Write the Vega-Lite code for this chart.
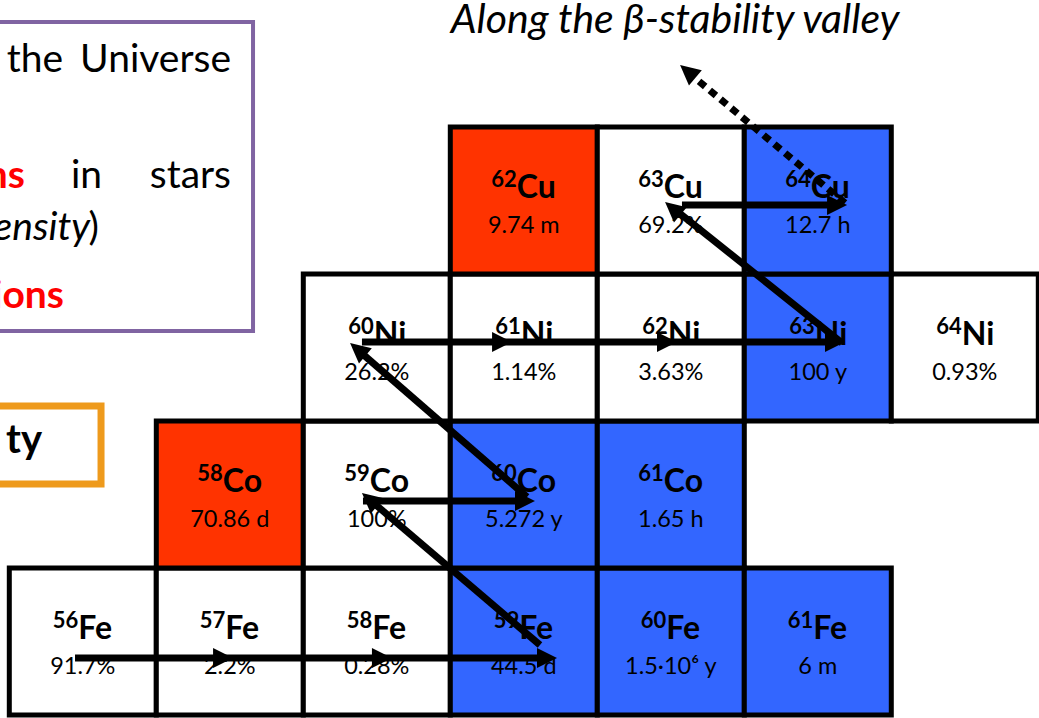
{
  "$schema": "https://vega.github.io/schema/vega-lite/v6.json",
  "width": 1039,
  "height": 718,
  "padding": 0,
  "autosize": {"type": "none"},
  "background": "white",
  "config": {"view": {"stroke": null}},
  "datasets": {
    "cells": [
      {"Z": 26, "N": 30, "A": "56", "el": "Fe", "val": "91.7%", "kind": "stable"},
      {"Z": 26, "N": 31, "A": "57", "el": "Fe", "val": "2.2%", "kind": "stable"},
      {"Z": 26, "N": 32, "A": "58", "el": "Fe", "val": "0.28%", "kind": "stable"},
      {"Z": 26, "N": 33, "A": "59", "el": "Fe", "val": "44.5 d", "kind": "beta-"},
      {"Z": 26, "N": 34, "A": "60", "el": "Fe", "val": "1.5·10⁶ y", "kind": "beta-"},
      {"Z": 26, "N": 35, "A": "61", "el": "Fe", "val": "6 m", "kind": "beta-"},
      {"Z": 27, "N": 31, "A": "58", "el": "Co", "val": "70.86 d", "kind": "beta+"},
      {"Z": 27, "N": 32, "A": "59", "el": "Co", "val": "100%", "kind": "stable"},
      {"Z": 27, "N": 33, "A": "60", "el": "Co", "val": "5.272 y", "kind": "beta-"},
      {"Z": 27, "N": 34, "A": "61", "el": "Co", "val": "1.65 h", "kind": "beta-"},
      {"Z": 28, "N": 32, "A": "60", "el": "Ni", "val": "26.2%", "kind": "stable"},
      {"Z": 28, "N": 33, "A": "61", "el": "Ni", "val": "1.14%", "kind": "stable"},
      {"Z": 28, "N": 34, "A": "62", "el": "Ni", "val": "3.63%", "kind": "stable"},
      {"Z": 28, "N": 35, "A": "63", "el": "Ni", "val": "100 y", "kind": "beta-"},
      {"Z": 28, "N": 36, "A": "64", "el": "Ni", "val": "0.93%", "kind": "stable"},
      {"Z": 29, "N": 33, "A": "62", "el": "Cu", "val": "9.74 m", "kind": "beta+"},
      {"Z": 29, "N": 34, "A": "63", "el": "Cu", "val": "69.2%", "kind": "stable"},
      {"Z": 29, "N": 35, "A": "64", "el": "Cu", "val": "12.7 h", "kind": "beta-"}
    ],
    "lines": [
      {"x1": 29.947, "y1": 25.888, "x2": 33.158, "y2": 25.888},
      {"x1": 33.110, "y1": 25.976, "x2": 31.954, "y2": 26.963},
      {"x1": 31.906, "y1": 26.956, "x2": 33.008, "y2": 26.956},
      {"x1": 33.022, "y1": 26.983, "x2": 31.872, "y2": 27.983},
      {"x1": 31.899, "y1": 28.037, "x2": 35.117, "y2": 28.037},
      {"x1": 35.165, "y1": 28.031, "x2": 34.015, "y2": 28.949},
      {"x1": 34.076, "y1": 28.969, "x2": 35.131, "y2": 28.969}
    ],
    "dotted": [
      {"x1": 35.185, "y1": 28.983, "x2": 34.165, "y2": 29.833}
    ],
    "headsRight": [
      {"x": 31.022, "y": 25.888},
      {"x": 32.103, "y": 25.888},
      {"x": 33.226, "y": 25.888},
      {"x": 33.076, "y": 26.956},
      {"x": 32.920, "y": 28.037},
      {"x": 34.042, "y": 28.037},
      {"x": 35.185, "y": 28.037},
      {"x": 35.199, "y": 28.969}
    ],
    "headsDiag": [
      {"x": 31.899, "y": 27.010},
      {"x": 31.818, "y": 28.031},
      {"x": 33.961, "y": 28.990},
      {"x": 34.063, "y": 29.922}
    ],
    "purpleBox": [{"x1": 29.30, "x2": 31.158, "y1": 28.112, "y2": 30.214}],
    "orangeBox": [{"x1": 29.30, "x2": 30.124, "y1": 27.072, "y2": 27.602}],
    "plainText": [
      {"x": 29.8653, "y": 29.8742, "t": "the"},
      {"x": 31.0081, "y": 29.8742, "t": "Universe"},
      {"x": 30.1306, "y": 29.0851, "t": "in"},
      {"x": 31.0081, "y": 29.0851, "t": "stars"},
      {"x": 30.1102, "y": 28.7313, "t": ")"}
    ],
    "redText": [
      {"x": 29.6068, "y": 29.0851, "t": "ns"},
      {"x": 29.8721, "y": 28.2688, "t": "ions"}
    ],
    "italicText": [
      {"x": 30.0490, "y": 28.7313, "t": "ensity"}
    ],
    "boldText": [
      {"x": 29.7224, "y": 27.2824, "t": "ty"}
    ],
    "title": [
      {"x": 34.0285, "y": 30.1395, "t": "Along the β-stability valley"}
    ]
  },
  "layer": [
    {
      "data": {"name": "cells"},
      "mark": {"type": "point", "shape": "square", "filled": true, "size": 21609, "stroke": "black", "strokeWidth": 5, "opacity": 1},
      "encoding": {
        "x": {"field": "N", "type": "quantitative", "scale": {"domain": [29.4367, 36.5048], "nice": false, "zero": false}, "axis": null},
        "y": {"field": "Z", "type": "quantitative", "scale": {"domain": [25.4796, 30.364], "nice": false, "zero": false}, "axis": null},
        "fill": {"field": "kind", "type": "nominal", "scale": {"domain": ["stable", "beta-", "beta+"], "range": ["#FFFFFF", "#3366FF", "#FF3300"]}, "legend": null}
      }
    },
    {
      "data": {"name": "purpleBox"},
      "mark": {"type": "rect", "fill": null, "fillOpacity": 0, "stroke": "#8064A2", "strokeWidth": 4},
      "encoding": {
        "x": {"field": "x1", "type": "quantitative"},
        "x2": {"field": "x2"},
        "y": {"field": "y1", "type": "quantitative"},
        "y2": {"field": "y2"}
      }
    },
    {
      "data": {"name": "orangeBox"},
      "mark": {"type": "rect", "fill": null, "fillOpacity": 0, "stroke": "#EE9A1C", "strokeWidth": 7},
      "encoding": {
        "x": {"field": "x1", "type": "quantitative"},
        "x2": {"field": "x2"},
        "y": {"field": "y1", "type": "quantitative"},
        "y2": {"field": "y2"}
      }
    },
    {
      "data": {"name": "cells"},
      "mark": {"type": "text", "font": "Lato", "fontWeight": "bold", "fontSize": 22, "align": "right", "baseline": "alphabetic", "dy": -14, "color": "black",
        "dx": {"expr": "datum.el == 'Co' || datum.el == 'Cu' ? -7 : (datum.el == 'Fe' ? -4.5 : -3)"}},
      "encoding": {
        "x": {"field": "N", "type": "quantitative"},
        "y": {"field": "Z", "type": "quantitative"},
        "text": {"field": "A"}
      }
    },
    {
      "data": {"name": "cells"},
      "mark": {"type": "text", "font": "Lato", "fontWeight": "bold", "fontSize": 32, "align": "left", "baseline": "alphabetic", "dy": -3, "color": "black",
        "dx": {"expr": "datum.el == 'Co' || datum.el == 'Cu' ? -7 : (datum.el == 'Fe' ? -4.5 : -3)"}},
      "encoding": {
        "x": {"field": "N", "type": "quantitative"},
        "y": {"field": "Z", "type": "quantitative"},
        "text": {"field": "el"}
      }
    },
    {
      "data": {"name": "cells"},
      "mark": {"type": "text", "font": "Lato", "fontSize": 23.5, "align": "center", "baseline": "alphabetic", "dy": 32, "color": "black"},
      "encoding": {
        "x": {"field": "N", "type": "quantitative"},
        "y": {"field": "Z", "type": "quantitative"},
        "text": {"field": "val"}
      }
    },
    {
      "data": {"name": "plainText"},
      "mark": {"type": "text", "font": "Lato", "fontSize": 39, "align": "right", "baseline": "alphabetic", "color": "black"},
      "encoding": {
        "x": {"field": "x", "type": "quantitative"},
        "y": {"field": "y", "type": "quantitative"},
        "text": {"field": "t"}
      }
    },
    {
      "data": {"name": "redText"},
      "mark": {"type": "text", "font": "Lato", "fontSize": 39, "fontWeight": "bold", "align": "right", "baseline": "alphabetic", "color": "#FF0000"},
      "encoding": {
        "x": {"field": "x", "type": "quantitative"},
        "y": {"field": "y", "type": "quantitative"},
        "text": {"field": "t"}
      }
    },
    {
      "data": {"name": "italicText"},
      "mark": {"type": "text", "font": "Lato", "fontSize": 39, "fontStyle": "italic", "align": "right", "baseline": "alphabetic", "color": "black"},
      "encoding": {
        "x": {"field": "x", "type": "quantitative"},
        "y": {"field": "y", "type": "quantitative"},
        "text": {"field": "t"}
      }
    },
    {
      "data": {"name": "boldText"},
      "mark": {"type": "text", "font": "Lato", "fontSize": 40, "fontWeight": "bold", "align": "right", "baseline": "alphabetic", "color": "black"},
      "encoding": {
        "x": {"field": "x", "type": "quantitative"},
        "y": {"field": "y", "type": "quantitative"},
        "text": {"field": "t"}
      }
    },
    {
      "data": {"name": "title"},
      "mark": {"type": "text", "font": "Lato", "fontSize": 41, "fontStyle": "italic", "align": "center", "baseline": "alphabetic", "color": "black"},
      "encoding": {
        "x": {"field": "x", "type": "quantitative"},
        "y": {"field": "y", "type": "quantitative"},
        "text": {"field": "t"}
      }
    },
    {
      "data": {"name": "lines"},
      "mark": {"type": "rule", "strokeWidth": 7, "color": "black", "strokeCap": "butt"},
      "encoding": {
        "x": {"field": "x1", "type": "quantitative"},
        "y": {"field": "y1", "type": "quantitative"},
        "x2": {"field": "x2"},
        "y2": {"field": "y2"}
      }
    },
    {
      "data": {"name": "dotted"},
      "mark": {"type": "rule", "strokeWidth": 7, "color": "black", "strokeCap": "butt", "strokeDash": [8, 6]},
      "encoding": {
        "x": {"field": "x1", "type": "quantitative"},
        "y": {"field": "y1", "type": "quantitative"},
        "x2": {"field": "x2"},
        "y2": {"field": "y2"}
      }
    },
    {
      "data": {"name": "headsRight"},
      "mark": {"type": "point", "shape": "M0,0L-2,-1L-2,1Z", "filled": true, "size": 400, "color": "black", "opacity": 1, "angle": 0},
      "encoding": {
        "x": {"field": "x", "type": "quantitative"},
        "y": {"field": "y", "type": "quantitative"}
      }
    },
    {
      "data": {"name": "headsDiag"},
      "mark": {"type": "point", "shape": "M0,0L-2,-1L-2,1Z", "filled": true, "size": 400, "color": "black", "opacity": 1, "angle": 220},
      "encoding": {
        "x": {"field": "x", "type": "quantitative"},
        "y": {"field": "y", "type": "quantitative"}
      }
    }
  ]
}
